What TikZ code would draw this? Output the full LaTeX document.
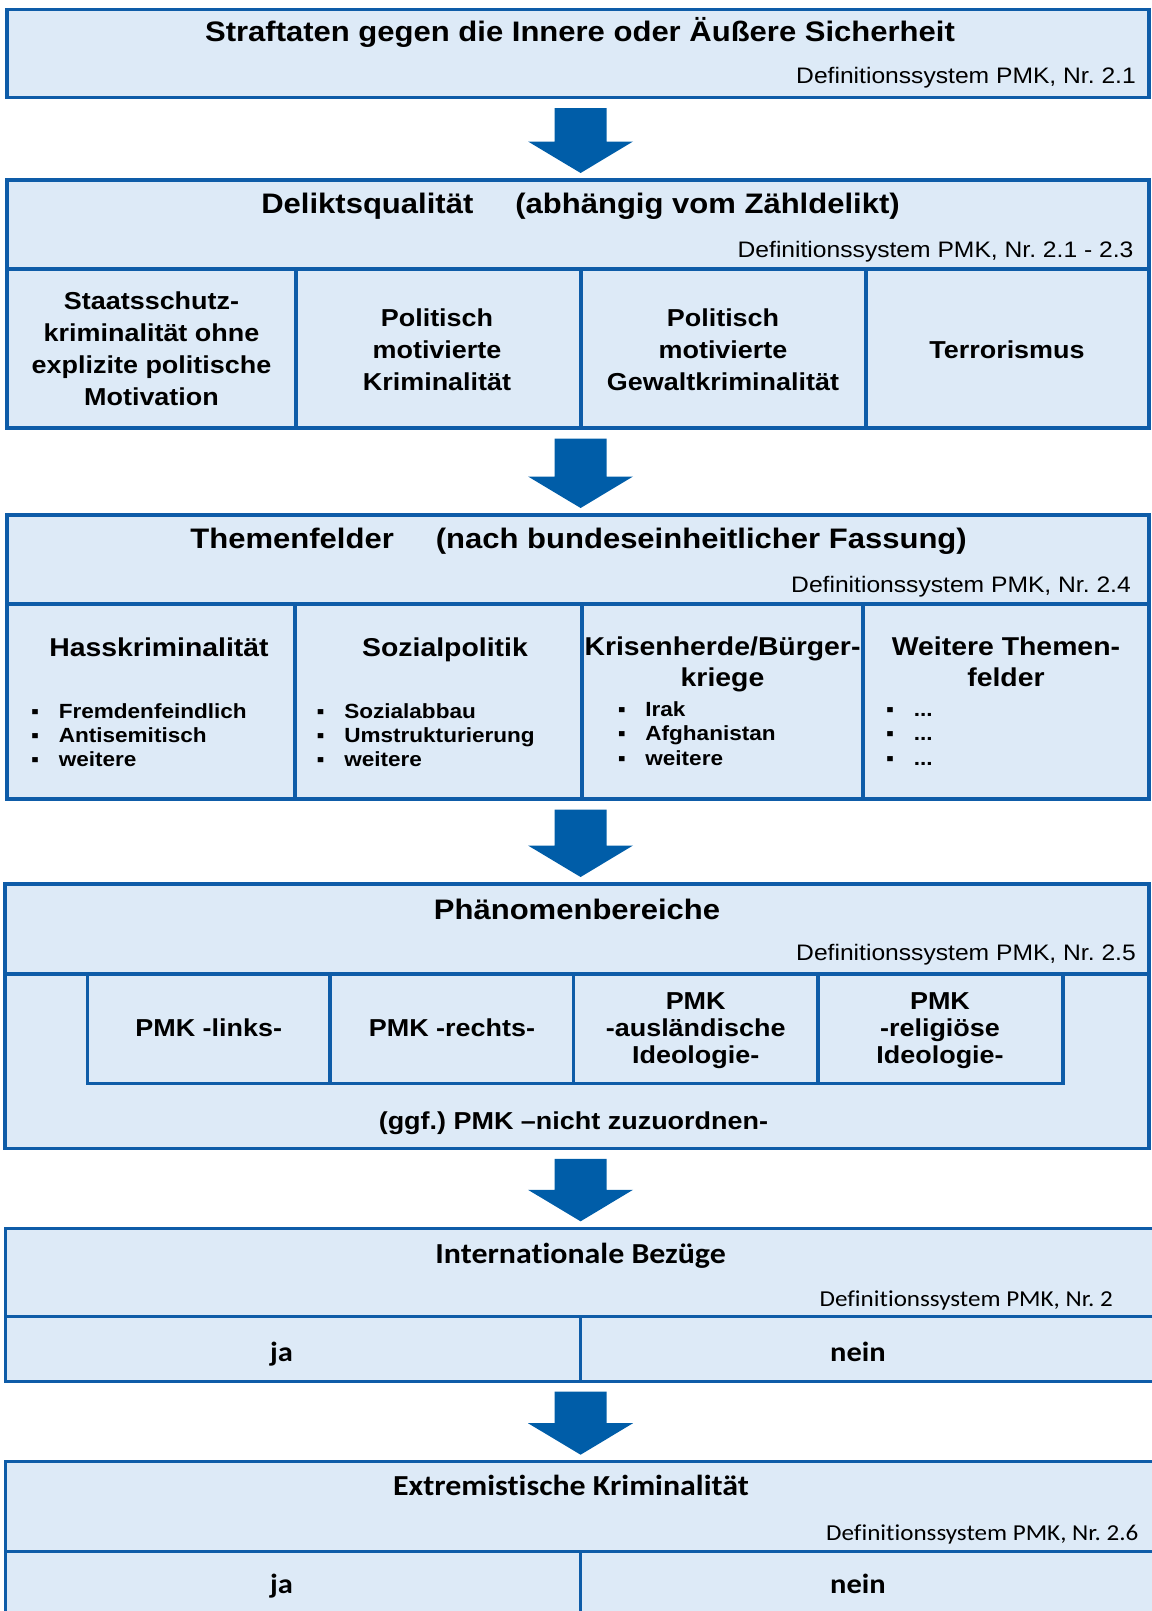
\documentclass[tikz,border=0pt]{standalone}
\usepackage{fontspec}
\setmainfont{Liberation Sans}[FakeStretch=1.1]
\newfontfamily\calfont{Carlito}[FakeStretch=1.1,Ligatures=CommonOff]
\usetikzlibrary{calc}
\definecolor{boxfill}{RGB}{221,234,247}
\definecolor{boxline}{RGB}{14,92,168}
\definecolor{arrowc}{RGB}{0,93,168}
\frenchspacing
\newcommand\bl{\makebox[27.6pt][l]{▪}}
\newcommand\mkcell[6][cellbox]{\node[#1, minimum width=#5pt, minimum height=#6pt] (#2) at (#3,#4) {};}
\newcommand\flowarrow[2]{%
  \fill[arrowc] let \p1=($(#1.south)+(0,10.5)$), \p2=($(#2.north)+(0,-7)$) in
  (554.6pt,\y1) -- (606.6pt,\y1) -- (606.6pt,\y2+31.5pt) -- (633pt,\y2+31.5pt)
  -- (580.6pt,\y2) -- (528pt,\y2+31.5pt) -- (554.6pt,\y2+31.5pt) -- cycle;}
\begin{document}
\begin{tikzpicture}[x=1pt,y=-1pt,
  cellbox/.style={draw=boxline, fill=boxfill, line width=3.5pt, inner sep=0pt, outer sep=0pt, anchor=north west},
  cellboxb/.style={cellbox, line width=3pt},
  title/.style={font=\bfseries\fontsize{28.2}{32}\selectfont, anchor=base, inner sep=0pt},
  def/.style={font=\fontsize{22.4}{26}\selectfont, anchor=base east, inner sep=0pt},
  cell/.style={font=\bfseries\fontsize{24.5}{31.7}\selectfont, align=center, anchor=base, inner sep=0pt},
  hdr/.style={font=\bfseries\fontsize{25.8}{31.7}\selectfont, align=center, anchor=base, inner sep=0pt},
  bul/.style={font=\bfseries\fontsize{20.5}{24.2}\selectfont, align=left, anchor=base west, inner sep=0pt},
  pmk/.style={font=\bfseries\fontsize{24.5}{26.7}\selectfont, align=center, anchor=base, inner sep=0pt},
  ctitle/.style={font=\calfont\bfseries\fontsize{29}{32}\selectfont, anchor=base, inner sep=0pt},
  cdef/.style={font=\calfont\fontsize{22.8}{26}\selectfont, anchor=base east, inner sep=0pt},
  cyes/.style={font=\calfont\bfseries\fontsize{27.7}{32}\selectfont, anchor=base, inner sep=0pt}]
\useasboundingbox (0,0) rectangle (1151,1611);
% ---------- box 1
\mkcell{b1}{7}{9.5}{1142}{88.2}
\node[title] (t1) at (580,41.3) {Straftaten gegen die Innere oder Äußere Sicherheit};
\node[def] (d1) at (1136,83.3) {Definitionssystem PMK, Nr. 2.1};
% ---------- box 2
\mkcell{h2}{7}{180}{1142}{89}
\mkcell{c2a}{7}{269}{289}{159}
\mkcell{c2b}{296}{269}{285}{159}
\mkcell{c2c}{581}{269}{285}{159}
\mkcell{c2d}{866}{269}{283}{159}
\node[title] (t2) at (580.5,213) {Deliktsqualität\hspace{42pt}(abhängig vom Zähldelikt)};
\node[def] (d2) at (1133.6,257) {Definitionssystem PMK, Nr. 2.1 - 2.3};
\node[cell] (x2a) at (151.5,405) {Staatsschutz-\\kriminalität ohne\\explizite politische\\Motivation};
\node[cell] (x2b) at (437,390) {Politisch\\motivierte\\Kriminalität};
\node[cell] (x2c) at (723,390) {Politisch\\motivierte\\Gewaltkriminalität};
\node[cell] (x2d) at (1007,358) {Terrorismus};
% ---------- box 3
\mkcell{h3}{7}{515}{1142}{89}
\mkcell{c3a}{7}{604}{288}{195}
\mkcell{c3b}{295}{604}{287}{195}
\mkcell{c3c}{582}{604}{281}{195}
\mkcell{c3d}{863}{604}{286}{195}
\node[title] (t3) at (578.6,548) {Themenfelder\hspace{42pt}(nach bundeseinheitlicher Fassung)};
\node[def] (d3) at (1131,592) {Definitionssystem PMK, Nr. 2.4};
\node[hdr] (x3a) at (159,656.7) {Hasskriminalität};
\node[hdr] (x3b) at (445,656.7) {Sozialpolitik};
\node[hdr] (x3c) at (722.5,686.7) {Krisenherde/Bürger-\\kriege};
\node[hdr] (x3d) at (1006,686.7) {Weitere Themen-\\felder};
\node[bul] (l3a) at (31,766.7) {\bl Fremdenfeindlich\\\bl Antisemitisch\\\bl weitere};
\node[bul] (l3b) at (316.5,766.7) {\bl Sozialabbau\\\bl Umstrukturierung\\\bl weitere};
\node[bul] (l3c) at (617.6,765) {\bl Irak\\\bl Afghanistan\\\bl weitere};
\node[bul] (l3d) at (886,765) {\bl ...\\\bl ...\\\bl ...};
% ---------- box 4
\mkcell{h4}{5}{884}{1144}{90}
\mkcell{l4}{5}{974}{1144}{174.3}
\mkcell{c4a}{87.4}{974}{242.6}{109.3}
\mkcell{c4b}{330}{974}{243.5}{109.3}
\mkcell{c4c}{573.5}{974}{244.5}{109.3}
\mkcell{c4d}{818}{974}{245}{109.3}
\node[title] (t4) at (577,919.3) {Phänomenbereiche};
\node[def] (d4) at (1136,960.7) {Definitionssystem PMK, Nr. 2.5};
\node[pmk] (x4a) at (208.7,1036.7) {PMK -links-};
\node[pmk] (x4b) at (452,1036.7) {PMK -rechts-};
\node[pmk] (x4c) at (695.7,1063.3) {PMK\\-ausländische\\Ideologie-};
\node[pmk] (x4d) at (940,1063.3) {PMK\\-religiöse\\Ideologie-};
\node[pmk] (x4e) at (573.4,1129.3) {(ggf.) PMK –nicht zuzuordnen-};
% ---------- box 5
\mkcell[cellboxb]{h5}{5}{1228.3}{1148}{88.4}
\mkcell[cellboxb]{c5a}{5}{1316.7}{575.6}{64.3}
\mkcell[cellboxb]{c5b}{580.6}{1316.7}{572.4}{64.3}
\node[ctitle] (t5) at (580.6,1263.3) {Internationale Bezüge};
\node[cdef] (d5) at (1113,1306.7) {Definitionssystem PMK, Nr. 2};
\node[cyes] (y5a) at (281.6,1361.7) {ja};
\node[cyes] (y5b) at (858,1361.7) {nein};
% ---------- box 6
\mkcell[cellboxb]{h6}{5}{1461.7}{1148}{90}
\mkcell[cellboxb]{c6a}{5}{1551.7}{575.6}{80}
\mkcell[cellboxb]{c6b}{580.6}{1551.7}{572.4}{80}
\node[ctitle] (t6) at (571,1495) {Extremistische Kriminalität};
\node[cdef] (d6) at (1138.6,1540) {Definitionssystem PMK, Nr. 2.6};
\node[cyes] (y6a) at (281.6,1593.3) {ja};
\node[cyes] (y6b) at (858,1593.3) {nein};
% ---------- arrows
\flowarrow{b1}{h2}
\flowarrow{c2b}{h3}
\flowarrow{c3b}{h4}
\flowarrow{l4}{h5}
\flowarrow{c5a}{h6}
\end{tikzpicture}
\end{document}
